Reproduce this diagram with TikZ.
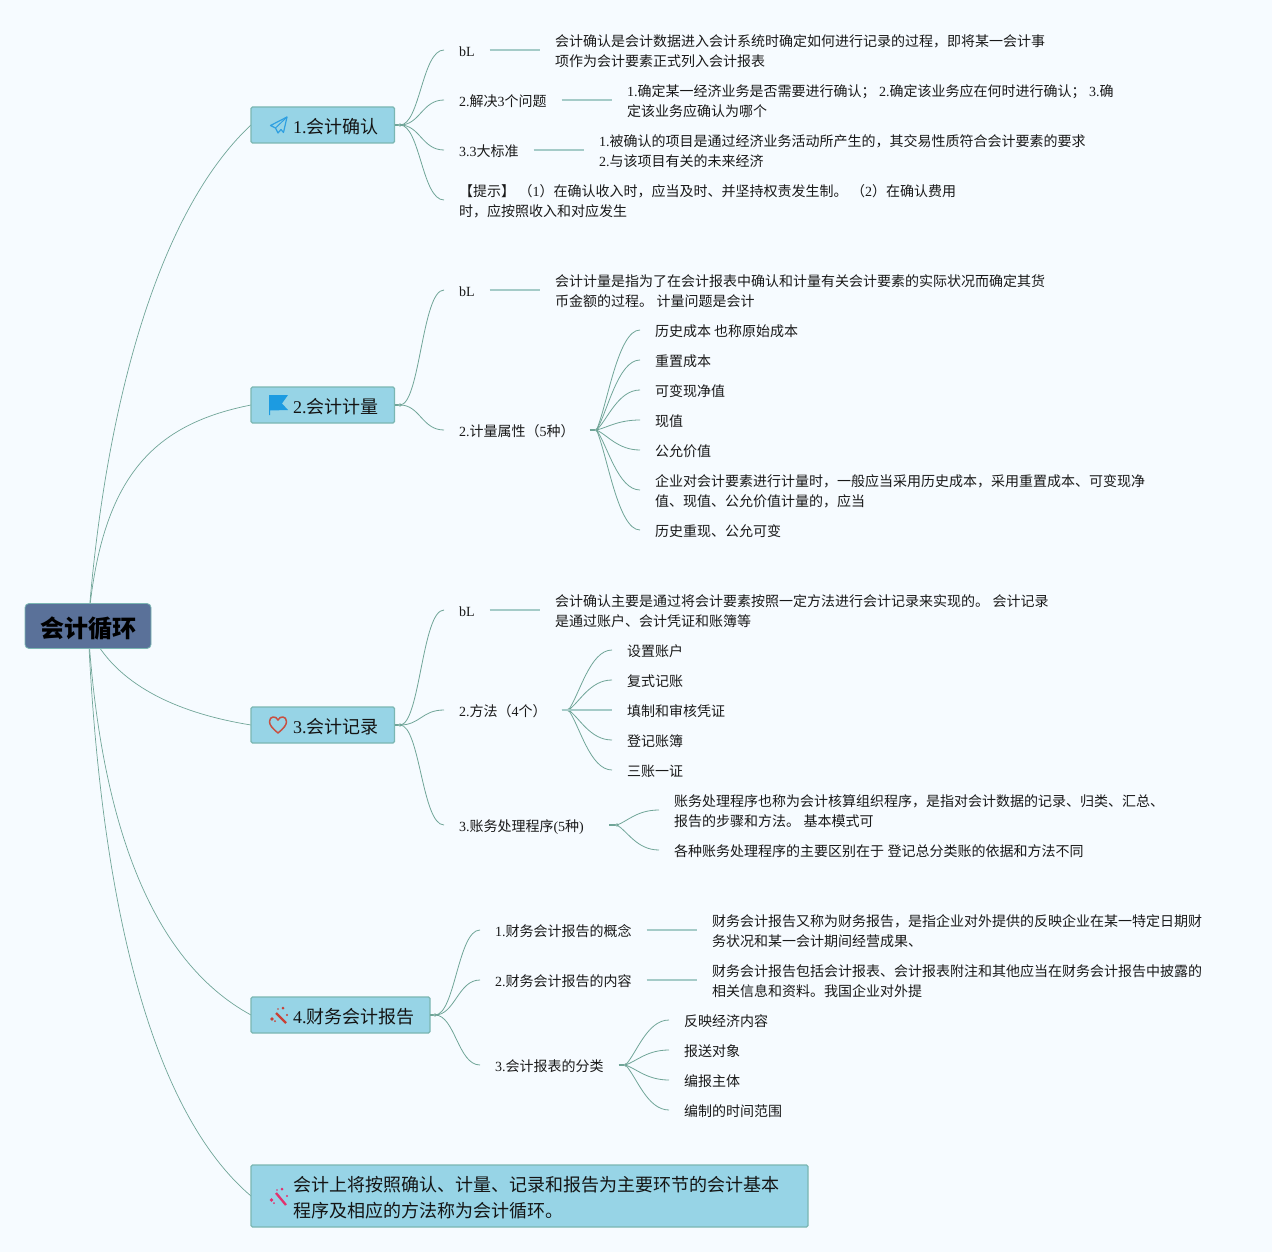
\documentclass[tikz,border=0pt]{standalone}
\usepackage{fontspec}
\setmainfont{Noto Sans CJK SC}
\newfontfamily\latf{Liberation Serif}
\usetikzlibrary{backgrounds,calc}
\newcommand\la[1]{{\latf #1}}
\newcommand\spc{{\latf\ }}
\newcommand\st{\rule[-3.5pt]{0pt}{20pt}}
\newcommand\tst{\rule[-4.3pt]{0pt}{26pt}}
\newcommand\pad{\hspace*{42pt}}
\definecolor{bgc}{RGB}{246,251,255}
\definecolor{topicfill}{RGB}{151,212,230}
\definecolor{topicline}{RGB}{122,182,178}
\definecolor{rootfill}{RGB}{90,113,153}
\definecolor{conn}{RGB}{112,165,152}
\definecolor{lconn}{RGB}{165,203,200}
\definecolor{txt}{RGB}{25,25,25}
\definecolor{plane}{RGB}{47,160,225}
\definecolor{flagc}{RGB}{28,155,225}
\definecolor{heart}{RGB}{200,80,65}
\definecolor{wand}{RGB}{200,65,55}
\definecolor{wandp}{RGB}{225,50,110}
\tikzset{
  rootnode/.style={draw=topicline,fill=rootfill,line width=0.8pt,rounded corners=4pt,minimum width=126pt,minimum height=45pt,inner sep=0pt,outer sep=0pt,text=black,font=\fontsize{24}{30}\selectfont\bfseries},
  topic/.style={draw=topicline,fill=topicfill,line width=1.3pt,rounded corners=1.5pt,inner xsep=0pt,inner ysep=5pt,outer sep=0pt,minimum height=36pt,align=left,text=black!92,anchor=west,font=\fontsize{18}{26}\selectfont},
  item/.style={inner xsep=15pt,inner ysep=0pt,outer sep=0pt,align=left,anchor=west,text=txt,font=\fontsize{14}{20}\selectfont},
  curveline/.style={draw=conn,line width=0.8pt},
  mainline/.style={draw=conn,line width=0.7pt},
  stub/.style={draw=conn,line width=1.4pt},
  leafline/.style={draw=lconn,line width=1.3pt},
  junction/.style={fill=conn!75},
}
\newcommand\cv[2]{\draw[curveline] (#1) .. controls +(20,0) and +(-22,0) .. (#2);}
\newcommand\cs[2]{\draw[curveline] (#1) .. controls ($(#1)!0.25!(#2)$) and +(-22,0) .. (#2);}
\newcommand\lf[2]{\draw[leafline] (#1.east) -- (#2.west);}
\begin{document}
\begin{tikzpicture}[x=1pt,y=-1pt]
\useasboundingbox (0,0) rectangle (1272,1252);
% root and topics
\node[rootnode] (root) at (88,626) {\rule[-5pt]{0pt}{33pt}会计循环};
\node[topic,text width=143.5pt] (t1) at (251,125) {\pad\tst\la{1.}会计确认};
\node[topic,text width=143.5pt] (t2) at (251,405) {\pad\tst\la{2.}会计计量};
\node[topic,text width=143.5pt] (t3) at (251,725) {\pad\tst\la{3.}会计记录};
\node[topic,text width=179pt] (t4) at (251,1015) {\pad\tst\la{4.}财务会计报告};
\node[topic,text width=557pt] (t5) at (251,1196) {\pad\tst 会计上将按照确认、计量、记录和报告为主要环节的会计基本\\\pad\tst 程序及相应的方法称为会计循环。};
\begin{scope}[on background layer]
\fill[bgc] (0,0) rectangle (1272,1252);
\draw[mainline] (root.center) .. controls (105,400) and (160,210) .. (t1.west);
\draw[mainline] (root.center) .. controls (100,480) and (150,425) .. (t2.west);
\draw[mainline] (root.center) .. controls (110,680) and (170,712) .. (t3.west);
\draw[mainline] (root.center) .. controls (100,820) and (150,960) .. (t4.west);
\draw[mainline] (root.center) .. controls (100,900) and (150,1110) .. (t5.west);
\end{scope}
% icons
\draw[plane,line width=1.2pt,line join=round] (287,117) -- (270.5,125.5) -- (275.5,128) -- (278,133) -- (281,129.5) -- (283.5,132.5) -- cycle;
\draw[plane,line width=1pt] (287,117) -- (275.5,128);
\fill[flagc] (269,395) -- (288,395) -- (282,403.5) -- (288,410) -- (270,410.5) -- (270,415) -- (269,415) -- cycle;
\draw[heart,line width=1.5pt,line join=round] (278,733) .. controls (272,728) and (269.5,725) .. (269.5,721.5) .. controls (269.5,716) and (276,715.5) .. (278,720) .. controls (280,715.5) and (286.5,716) .. (286.5,721.5) .. controls (286.5,725) and (284,728) .. (278,733) -- cycle;
\draw[wand,line width=2.3pt] (276,1013) -- (286,1023);
\fill[wand] (283,1008) circle (1.5) (272,1019) circle (1.8) (287,1015) circle (1.1) (278,1009) circle (0.8) (275,1021) circle (1);
\draw[wandp,line width=2.3pt] (276,1193) -- (286,1205);
\fill[wandp] (282,1189) circle (1.5) (271.5,1200) circle (1.8) (287,1196) circle (1.1) (277,1190) circle (0.8) (274,1203) circle (1);
% branch 1
\coordinate (j1) at (400,125);
\draw[stub] (t1.east) -- (j1);
\fill[junction] (j1) circle (1.8);
\node[item] (a1) at (444,50) {\st\la{bL}};
\node[item] (a1x) at (540,50) {\st 会计确认是会计数据进入会计系统时确定如何进行记录的过程，即将某一会计事\\\st 项作为会计要素正式列入会计报表};
\node[item] (a2) at (444,100) {\st\la{2.}解决\la{3}个问题};
\node[item] (a2x) at (612,100) {\st\la{1.}确定某一经济业务是否需要进行确认；\spc\la{2.}确定该业务应在何时进行确认；\spc\la{3.}确\\\st 定该业务应确认为哪个};
\node[item] (a3) at (444,150) {\st\la{3.3}大标准};
\node[item] (a3x) at (584,150) {\st\la{1.}被确认的项目是通过经济业务活动所产生的，其交易性质符合会计要素的要求\\\st\la{2.}与该项目有关的未来经济};
\node[item] (a4) at (444,200) {\st【提示】\spc（\la{1}）在确认收入时，应当及时、并坚持权责发生制。\spc（\la{2}）在确认费用\\\st 时，应按照收入和对应发生};
\cv{j1}{a1.west} \cv{j1}{a2.west} \cv{j1}{a3.west} \cv{j1}{a4.west}
\lf{a1}{a1x} \lf{a2}{a2x} \lf{a3}{a3x}
% branch 2
\coordinate (j2) at (400,405);
\draw[stub] (t2.east) -- (j2);
\fill[junction] (j2) circle (1.8);
\node[item] (b1) at (444,290) {\st\la{bL}};
\node[item] (b1x) at (540,290) {\st 会计计量是指为了在会计报表中确认和计量有关会计要素的实际状况而确定其货\\\st 币金额的过程。\spc 计量问题是会计};
\node[item] (b2) at (444,430) {\st\la{2.}计量属性（\la{5}种）};
\coordinate (j2b) at ([xshift=7pt]b2.east);
\draw[stub] (b2.east) -- (j2b);
\fill[junction] (j2b) circle (1.8);
\node[item] (b21) at (640,330) {\st 历史成本 也称原始成本};
\node[item] (b22) at (640,360) {\st 重置成本};
\node[item] (b23) at (640,390) {\st 可变现净值};
\node[item] (b24) at (640,420) {\st 现值};
\node[item] (b25) at (640,450) {\st 公允价值};
\node[item] (b26) at (640,490) {\st 企业对会计要素进行计量时，一般应当采用历史成本，采用重置成本、可变现净\\\st 值、现值、公允价值计量的，应当};
\node[item] (b27) at (640,530) {\st 历史重现、公允可变};
\cv{j2}{b1.west} \cv{j2}{b2.west} \lf{b1}{b1x}
\cs{j2b}{b21.west} \cs{j2b}{b22.west} \cs{j2b}{b23.west} \cs{j2b}{b24.west} \cs{j2b}{b25.west} \cs{j2b}{b26.west} \cs{j2b}{b27.west}
% branch 3
\coordinate (j3) at (400,725);
\draw[stub] (t3.east) -- (j3);
\fill[junction] (j3) circle (1.8);
\node[item] (c1) at (444,610) {\st\la{bL}};
\node[item] (c1x) at (540,610) {\st 会计确认主要是通过将会计要素按照一定方法进行会计记录来实现的。\spc 会计记录\\\st 是通过账户、会计凭证和账簿等};
\node[item] (c2) at (444,710) {\st\la{2.}方法（\la{4}个）};
\coordinate (j3b) at ([xshift=7pt]c2.east);
\draw[stub] (c2.east) -- (j3b);
\fill[junction] (j3b) circle (1.8);
\node[item] (c21) at (612,650) {\st 设置账户};
\node[item] (c22) at (612,680) {\st 复式记账};
\node[item] (c23) at (612,710) {\st 填制和审核凭证};
\node[item] (c24) at (612,740) {\st 登记账簿};
\node[item] (c25) at (612,770) {\st 三账一证};
\node[item] (c3) at (444,825) {\st\la{3.}账务处理程序\la{(5}种\la{)}};
\coordinate (c3e) at (609,825);
\coordinate (j3c) at (617,825);
\draw[stub] (c3e) -- (j3c);
\fill[junction] (j3c) circle (1.8);
\node[item] (c31) at (659,810) {\st 账务处理程序也称为会计核算组织程序，是指对会计数据的记录、归类、汇总、\\\st 报告的步骤和方法。\spc 基本模式可};
\node[item] (c32) at (659,850) {\st 各种账务处理程序的主要区别在于\spc 登记总分类账的依据和方法不同};
\cv{j3}{c1.west} \cv{j3}{c2.west} \cv{j3}{c3.west} \lf{c1}{c1x}
\cs{j3b}{c21.west} \cs{j3b}{c22.west} \cs{j3b}{c24.west} \cs{j3b}{c25.west}
\lf{c2}{c23}
\cs{j3c}{c31.west} \cs{j3c}{c32.west}
% branch 4
\coordinate (j4) at (435,1015);
\draw[stub] (t4.east) -- (j4);
\fill[junction] (j4) circle (1.8);
\node[item] (d1) at (480,930) {\st\la{1.}财务会计报告的概念};
\node[item] (d1x) at (697,930) {\st 财务会计报告又称为财务报告，是指企业对外提供的反映企业在某一特定日期财\\\st 务状况和某一会计期间经营成果、};
\node[item] (d2) at (480,980) {\st\la{2.}财务会计报告的内容};
\node[item] (d2x) at (697,980) {\st 财务会计报告包括会计报表、会计报表附注和其他应当在财务会计报告中披露的\\\st 相关信息和资料。我国企业对外提};
\node[item] (d3) at (480,1065) {\st\la{3.}会计报表的分类};
\coordinate (j4c) at ([xshift=7pt]d3.east);
\draw[stub] (d3.east) -- (j4c);
\fill[junction] (j4c) circle (1.8);
\node[item] (d31) at (669,1020) {\st 反映经济内容};
\node[item] (d32) at (669,1050) {\st 报送对象};
\node[item] (d33) at (669,1080) {\st 编报主体};
\node[item] (d34) at (669,1110) {\st 编制的时间范围};
\cv{j4}{d1.west} \cv{j4}{d2.west} \cv{j4}{d3.west} \lf{d1}{d1x} \lf{d2}{d2x}
\cs{j4c}{d31.west} \cs{j4c}{d32.west} \cs{j4c}{d33.west} \cs{j4c}{d34.west}
\end{tikzpicture}
\end{document}
